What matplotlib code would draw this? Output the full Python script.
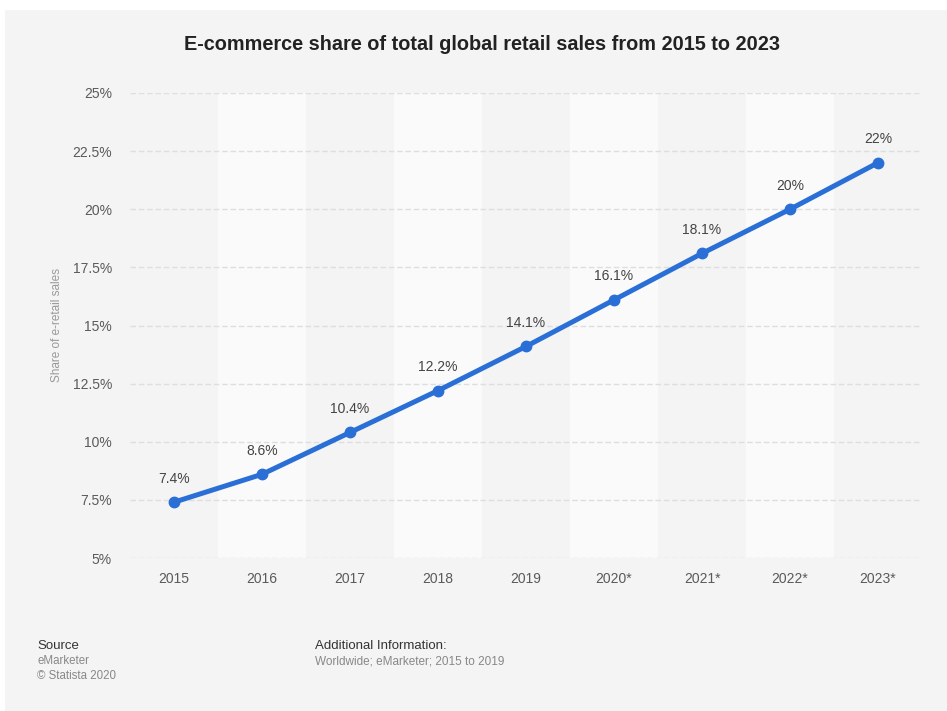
import numpy as np
import matplotlib.pyplot as plt

years = ["2015", "2016", "2017", "2018", "2019", "2020*", "2021*", "2022*", "2023*"]
share = [7.4, 8.6, 10.4, 12.2, 14.1, 16.1, 18.1, 20, 22]
labels = ["7.4%", "8.6%", "10.4%", "12.2%", "14.1%", "16.1%", "18.1%", "20%", "22%"]
yticks = [5, 7.5, 10, 12.5, 15, 17.5, 20, 22.5, 25]
ytick_labels = ["5%", "7.5%", "10%", "12.5%", "15%", "17.5%", "20%", "22.5%", "25%"]

plt.rcParams['font.family'] = ['Liberation Sans', 'DejaVu Sans']

W, H = 947, 711
fig = plt.figure(figsize=(W / 100, H / 100), dpi=100)
fig.patch.set_facecolor('white')

# gray card behind everything, leaving a thin white margin top/left
card = plt.Rectangle((5 / W, 0), 1 - 5 / W, 1 - 10 / H, transform=fig.transFigure,
                     facecolor='#f4f4f4', edgecolor='none', zorder=-10)
fig.patches.append(card)

ax = fig.add_axes([130 / W, 1 - 558 / H, (922 - 130) / W, (558 - 93) / H])
ax.set_facecolor('none')

x = np.arange(len(years))
ax.set_xlim(-0.5, len(years) - 0.5)
ax.set_ylim(5, 25)

# alternating lighter column bands
for i in x:
    if i % 2 == 1:
        ax.axvspan(i - 0.5, i + 0.5, color='#fafafa', zorder=0, lw=0)

for yv in yticks:
    ax.axhline(yv, color='#dedede', lw=1, ls=(0, (4, 2)), zorder=1)

ax.plot(x, share, color='#2a6fd6', lw=3.6, marker='o', markersize=7.5,
        solid_capstyle='round', zorder=3)

for xi, yi, lab in zip(x, share, labels):
    ax.annotate(lab, (xi, yi), xytext=(0, 12), textcoords='offset points',
                ha='center', va='bottom', fontsize=10, color='#444444', zorder=4)

ax.set_xticks(x)
ax.set_xticklabels(years, fontsize=10, color='#5a5a5a')
ax.set_yticks(yticks)
ax.set_yticklabels(ytick_labels, fontsize=10, color='#5a5a5a')
ax.tick_params(axis='both', length=0)
ax.tick_params(axis='x', pad=10)
ax.tick_params(axis='y', pad=13)
for s in ax.spines.values():
    s.set_visible(False)

fig.text(57 / W, 1 - 325 / H, "Share of e-retail sales", rotation=90, ha='center',
         va='center', fontsize=8.5, color='#999999')

fig.text(482 / W, 1 - 44 / H, "E-commerce share of total global retail sales from 2015 to 2023",
         ha='center', va='center', fontsize=14.3, fontweight='bold', color='#222222')

fig.text(37 / W, 1 - 646 / H, "Source", fontsize=9.5, color='#333333', va='center')
fig.text(37 / W, 1 - 661 / H, "eMarketer", fontsize=8.3, color='#888888', va='center')
fig.text(37 / W, 1 - 676 / H, "\u00a9 Statista 2020", fontsize=8.3, color='#888888', va='center')
fig.text(315 / W, 1 - 646 / H, "Additional Information:", fontsize=9.5, color='#333333', va='center')
fig.text(315 / W, 1 - 661 / H, "Worldwide; eMarketer; 2015 to 2019", fontsize=8.5, color='#888888',
         va='center')

fig.savefig('out.png', dpi=100, facecolor=fig.get_facecolor())
